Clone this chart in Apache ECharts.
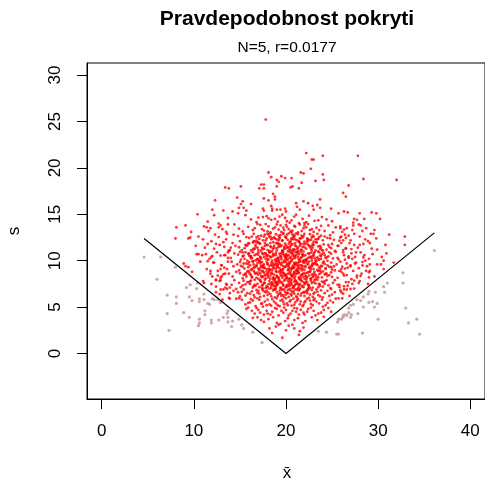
<!DOCTYPE html>
<html>
<head>
<meta charset="utf-8">
<script src="https://cdn.jsdelivr.net/npm/echarts@6/dist/echarts.min.js"></script>
<style>html,body{margin:0;padding:0;background:#fff;}#c{width:485px;height:481px;}</style>
</head>
<body>
<div id="c"></div>
<script>
// ---- data (x = sample mean, s = sample standard deviation) ----
const xTicks = [0, 10, 20, 30, 40];
const yTicks = [0, 5, 10, 15, 20, 25, 30];
const vLineX = [4.6, 20, 36.1];
const vLineS = [12.4, 0, 13.0];

const redLow = [
[19.6,1.7],[18.2,2.7],[18.5,2.2],[21.4,2.0],[21.5,2.4],[20.9,2.7],[20.3,3.0],[19.2,3.1],[18.9,2.9],[21.9,2.8],[20.0,2.5],
[17.6,3.4],[21.3,3.8],[19.4,3.2],[22.8,3.9],[18.1,3.7],[20.7,3.1],[16.9,3.9],[23.4,3.6],[19.9,3.5],[21.8,3.3],[18.6,3.9],[20.2,3.8],[17.3,3.6],[22.1,3.5],[19.0,3.3],[24.1,3.95],[20.9,3.6],[16.4,3.85],
[18.3,4.2],[21.6,4.7],[19.7,4.4],[23.2,4.1],[16.8,4.9],[20.5,4.3],[22.4,4.8],[17.9,4.6],[24.6,4.9],[19.2,4.1],[21.1,4.5],[15.7,4.8],[20.0,4.7],[23.8,4.4],[18.8,4.9],[22.0,4.2],[17.2,4.4],[20.9,4.9],[19.5,4.6],[24.1,4.7],[16.3,4.6],[21.9,4.4],[18.5,4.5],[20.3,4.1],[23.0,4.6],[17.6,4.2],[22.7,4.95],[19.0,4.8],[15.9,4.95],[21.4,4.2],[20.7,4.6],[18.0,4.3],[24.9,4.5],[16.6,4.3],[22.3,4.5],[19.8,4.95],[17.0,4.7],[21.2,4.85],[23.5,4.3],
[19.3,5.1],[22.6,5.7],[17.4,5.4],[20.8,5.9],[15.2,5.8],[24.3,5.2],[18.7,5.6],[21.5,5.3],[16.1,5.5],[23.1,5.9],[20.1,5.4],[25.7,5.95],[17.9,5.2],[22.0,5.5],[19.6,5.8],[14.6,5.9],[21.8,5.1],[18.2,5.3],[24.8,5.7],[20.4,5.6],[16.7,5.1],[23.6,5.4],[19.0,5.95],[21.2,5.7],[17.1,5.8],[22.9,5.2],[15.6,5.3],[20.6,5.15],[18.5,5.85],[25.1,5.5],[19.8,5.3],[22.3,5.9],[16.4,5.7],[21.0,5.5],[23.9,5.8],[17.7,5.6],[20.2,5.2],[18.9,5.4],[24.0,5.05],[14.9,5.95],[21.6,5.6],[19.4,5.7],[22.7,5.35],[16.9,5.95],[20.9,5.25],[18.0,5.8],[23.3,5.6],[15.9,5.45],[21.3,5.85],[19.1,5.2],[25.4,5.9],[17.5,5.05],[22.1,5.65],[20.0,5.95],[18.4,5.15],[24.5,5.45],[16.2,5.85],[21.9,5.25],[19.7,5.55],[23.0,5.75],[17.3,5.35],[20.5,5.75],[26.1,5.95],[13.9,5.9]
];

const redMid = [
[20.3,6.1],[17.8,6.6],[23.5,6.3],[15.4,6.9],[21.7,6.5],[19.1,6.2],[25.9,6.8],[18.3,6.4],[22.4,6.9],[13.6,6.95],[20.8,6.7],[16.5,6.3],[24.2,6.5],[19.6,6.85],[21.1,6.15],[17.0,6.75],[23.0,6.45],[14.8,6.6],[20.0,6.35],[26.6,6.9],[18.8,6.05],[22.2,6.7],[16.1,6.45],[21.5,6.95],[19.4,6.5],[24.7,6.2],[17.4,6.9],[20.6,6.25],[15.0,6.15],[23.8,6.8],[18.1,6.55],[22.9,6.1],[19.9,6.65],[16.8,6.85],[21.3,6.4],[25.3,6.6],[17.6,6.2],[20.4,6.95],[14.3,6.75],[22.6,6.35],[18.6,6.8],[24.0,6.05],[19.2,6.4],[21.9,6.6],[15.8,6.5],[23.3,6.9],[20.1,6.55],[17.2,6.1],[26.2,6.45],[18.9,6.95],[22.0,6.2],[16.3,6.7],[21.4,6.8],[19.7,6.3],[24.5,6.75],[13.9,6.5],[20.9,6.45],[17.9,6.75],[23.1,6.55],[15.6,6.25],[19.0,6.6],[22.8,6.85],[18.4,6.15],[25.0,6.35],[21.0,6.9],[16.6,6.05],[20.7,6.6],[14.6,6.95],[23.7,6.15],[19.3,6.75],[17.1,6.45],[22.3,6.5],[20.2,6.85],[24.9,6.95],[18.0,6.3],[21.6,6.25],[15.2,6.65],[19.8,6.1],[23.4,6.65],[16.9,6.55],[21.2,6.05],[18.7,6.9],[27.0,6.95],[12.9,6.9],[20.5,6.4],[17.5,6.95],[22.5,6.0],[19.5,6.2],
[19.4,7.1],[22.1,7.6],[16.7,7.3],[24.4,7.9],[20.6,7.4],[18.2,7.8],[13.5,7.5],[21.8,7.2],[17.3,7.7],[25.6,7.4],[19.9,7.95],[15.1,7.15],[23.2,7.55],[20.2,7.25],[18.6,7.45],[22.7,7.85],[16.0,7.65],[21.3,7.05],[26.8,7.7],[19.0,7.35],[17.7,7.95],[24.0,7.2],[20.9,7.75],[14.4,7.9],[22.4,7.4],[18.9,7.6],[21.0,7.9],[16.4,7.1],[23.7,7.3],[19.6,7.55],[27.4,7.85],[17.9,7.25],[20.4,7.65],[15.6,7.45],[22.9,7.1],[18.4,7.05],[25.1,7.6],[21.5,7.5],[12.8,7.8],[19.2,7.8],[16.9,7.5],[23.9,7.75],[20.0,7.15],[22.2,7.95],[17.5,7.4],[24.8,7.05],[19.7,7.3],[14.9,7.6],[21.2,7.65],[18.0,7.15],[26.3,7.25],[20.7,7.05],[16.2,7.85],[22.5,7.3],[19.3,7.65],[23.4,7.95],[17.1,7.15],[21.7,7.8],[15.3,7.35],[20.3,7.5],[25.3,7.9],[18.7,7.25],[22.0,7.45],[13.9,7.1],[19.8,7.85],[24.2,7.5],[17.6,7.6],[21.4,7.3],[16.6,7.95],[20.8,7.2],[23.0,7.7],[18.3,7.55],[27.9,7.6],[19.5,7.0],[21.9,7.15],[15.8,7.7],[22.8,7.6],[17.2,7.85],[20.1,7.4],[24.6,7.35],[18.8,7.9],[21.1,7.55],[14.1,7.4],[23.5,7.15],[19.1,7.5],[16.5,7.25],[22.3,7.7],[20.5,7.85],[25.8,7.15],[17.8,7.05],[21.6,7.9],[18.5,7.7],[23.6,7.45],[12.4,7.95],[20.6,7.95],[16.1,7.5],[22.6,7.05],[19.0,7.7],[24.1,7.65],[17.4,7.35],[21.3,7.45],[15.4,7.85],[20.9,7.3],[18.1,7.45],
[20.4,8.1],[17.6,8.7],[23.3,8.3],[15.9,8.9],[21.8,8.5],[19.1,8.2],[26.2,8.6],[18.3,8.4],[22.6,8.85],[13.2,8.55],[20.9,8.75],[16.8,8.15],[24.7,8.45],[19.5,8.95],[21.4,8.05],[17.2,8.65],[23.0,8.35],[14.6,8.8],[20.1,8.25],[27.3,8.9],[18.7,8.5],[22.3,8.15],[16.2,8.45],[21.1,8.95],[19.8,8.6],[25.0,8.25],[17.9,8.8],[20.6,8.35],[15.3,8.1],[23.8,8.7],[18.0,8.55],[22.0,8.05],[19.3,8.75],[16.5,8.9],[21.6,8.4],[24.3,8.6],[17.4,8.2],[20.3,8.95],[12.6,8.4],[22.8,8.5],[18.9,8.85],[25.6,8.15],[19.0,8.3],[21.9,8.65],[15.6,8.55],[23.5,8.9],[20.0,8.45],[17.0,8.05],[28.1,8.35],[18.5,8.95],[22.2,8.3],[16.0,8.75],[21.3,8.85],[19.6,8.15],[24.9,8.75],[11.8,8.9],[20.8,8.55],[17.7,8.4],[23.2,8.05],[15.0,8.65],[19.4,8.5],[22.9,8.25],[18.2,8.9],[26.6,8.45],[21.0,8.3],[16.7,8.6],[20.5,8.8],[14.2,8.3],[23.6,8.55],[19.2,8.05],[17.3,8.35],[22.4,8.75],[20.2,8.6],[25.3,8.95],[18.1,8.2],[21.5,8.15],[15.4,8.45],[19.9,8.4],[24.0,8.85],[16.9,8.7],[21.2,8.6],[18.6,8.0],[27.7,8.2],[20.7,8.45],[17.5,8.85],[22.5,8.4],[13.8,8.6],[19.7,8.7],[23.9,8.2],[18.4,8.65],[21.7,8.95],[16.3,8.25],[20.0,8.15],[24.5,8.35],[17.8,8.5],[22.1,8.6],[14.9,8.95],[19.5,8.35],[23.1,8.8],[18.8,8.1],[21.4,8.7],[16.1,8.55],[26.0,8.8],[20.4,8.65],[17.1,8.95],[22.7,8.1],[19.0,8.8],[12.9,8.15],[21.8,8.25],[18.3,8.05],[24.2,8.5],[20.9,8.1],[15.7,8.3],[29.0,8.75]
];

const redHigh = [
[19.7,9.1],[22.4,9.6],[16.6,9.3],[24.9,9.8],[20.3,9.4],[18.0,9.7],[13.0,9.5],[21.6,9.2],[17.4,9.85],[26.1,9.35],[19.2,9.9],[15.5,9.15],[23.4,9.55],[20.7,9.25],[18.5,9.45],[22.0,9.8],[15.9,9.65],[21.2,9.05],[27.5,9.7],[19.0,9.35],[17.1,9.95],[24.3,9.2],[20.9,9.75],[14.1,9.9],[22.8,9.4],[18.8,9.6],[21.4,9.9],[16.3,9.1],[23.6,9.3],[19.5,9.55],[28.3,9.85],[17.7,9.25],[20.1,9.65],[15.1,9.45],[23.0,9.1],[18.3,9.05],[25.5,9.6],[21.7,9.5],[12.2,9.8],[19.3,9.8],[16.8,9.5],[24.0,9.75],[20.5,9.15],[22.2,9.95],[17.3,9.4],[25.0,9.05],[19.9,9.3],[14.7,9.6],[21.0,9.65],[18.1,9.15],[26.7,9.25],[20.6,9.05],[16.0,9.85],[22.6,9.3],[19.4,9.65],[23.3,9.95],[17.0,9.15],[21.9,9.8],[15.3,9.35],[20.2,9.5],[25.9,9.9],[18.7,9.25],[22.1,9.45],[13.6,9.1],[19.8,9.85],[24.5,9.5],[17.6,9.6],[21.3,9.3],[16.4,9.95],[20.8,9.2],[23.1,9.7],[18.4,9.55],[29.1,9.6],[19.6,9.0],[21.8,9.15],[15.7,9.7],[22.9,9.6],[17.2,9.85],[20.0,9.4],[24.7,9.35],[18.9,9.9],[21.1,9.55],[14.3,9.4],[23.7,9.15],[19.1,9.5],[16.5,9.25],[22.3,9.7],[20.4,9.85],[26.4,9.15],[17.9,9.05],[21.5,9.9],[18.6,9.7],[23.8,9.45],[11.5,9.95],[20.6,9.95],[16.1,9.5],[22.7,9.05],[19.0,9.7],[24.2,9.65],[17.5,9.35],[21.3,9.45],[15.0,9.85],[20.9,9.3],[18.2,9.45],[27.0,9.5],[19.3,9.2],[22.5,9.25],[16.9,9.75],[20.3,9.7],[13.3,9.25],[25.2,9.4],
[20.2,10.1],[17.5,10.7],[23.1,10.3],[15.6,10.9],[21.9,10.5],[19.0,10.2],[26.3,10.6],[18.4,10.4],[22.7,10.85],[12.9,10.55],[20.8,10.75],[16.9,10.15],[24.6,10.45],[19.6,10.95],[21.5,10.05],[17.0,10.65],[23.4,10.35],[14.4,10.8],[20.0,10.25],[27.6,10.9],[18.6,10.5],[22.2,10.15],[16.1,10.45],[21.2,10.95],[19.8,10.6],[25.1,10.25],[17.8,10.8],[20.5,10.35],[15.1,10.1],[23.9,10.7],[18.1,10.55],[22.0,10.05],[19.3,10.75],[16.4,10.9],[21.7,10.4],[24.2,10.6],[17.3,10.2],[20.4,10.95],[11.9,10.4],[22.9,10.5],[18.9,10.85],[25.7,10.15],[19.1,10.3],[21.8,10.65],[15.4,10.55],[23.6,10.9],[20.1,10.45],[16.7,10.05],[28.4,10.35],[18.3,10.95],[22.4,10.3],[15.9,10.75],[21.3,10.85],[19.5,10.15],[24.9,10.75],[13.7,10.9],[20.7,10.55],[17.6,10.4],[23.2,10.05],[14.8,10.65],[19.4,10.5],[22.8,10.25],[18.2,10.9],[26.8,10.45],[21.0,10.3],[16.6,10.6],[20.6,10.8],[14.0,10.3],[23.7,10.55],[19.2,10.05],[17.2,10.35],[22.5,10.75],[20.3,10.6],[25.4,10.95],[18.0,10.2],[21.4,10.15],[15.3,10.45],[19.9,10.4],[24.1,10.85],[16.8,10.7],[21.1,10.6],[18.5,10.0],[27.2,10.2],[20.9,10.45],[17.4,10.85],[22.6,10.4],[13.4,10.6],[19.7,10.7],[23.8,10.2],[18.7,10.65],[21.6,10.95],[16.2,10.25],[20.0,10.15],[24.4,10.35],[17.9,10.5],[22.1,10.6],[15.0,10.95],[19.5,10.35],[23.0,10.8],[18.8,10.1],[21.4,10.7],[16.0,10.55],
[19.6,11.1],[22.5,11.6],[16.5,11.3],[25.0,11.8],[20.4,11.4],[17.9,11.7],[13.3,11.5],[21.7,11.2],[17.2,11.85],[26.5,11.35],[19.1,11.9],[15.2,11.15],[23.5,11.55],[20.8,11.25],[18.4,11.45],[22.1,11.8],[15.8,11.65],[21.3,11.05],[28.0,11.7],[19.0,11.35],[16.9,11.95],[24.4,11.2],[20.6,11.75],[14.2,11.9],[22.9,11.4],[18.7,11.6],[21.5,11.9],[16.2,11.1],[23.7,11.3],[19.4,11.55],[17.6,11.25],[20.0,11.65],[14.9,11.45],[23.2,11.1],[18.2,11.05],[25.6,11.6],[21.8,11.5],[12.4,11.8],[19.3,11.8],[16.7,11.5],[24.1,11.75],[20.5,11.15],[22.3,11.95],[17.4,11.4],[25.3,11.05],[19.8,11.3],[14.5,11.6],[21.0,11.65],[18.0,11.15],[27.1,11.25],[20.7,11.05],[16.0,11.85],[22.7,11.3],[19.5,11.65],[23.3,11.95],[17.0,11.15],[21.9,11.8],[15.5,11.35],[20.2,11.5],[26.0,11.9],[18.6,11.25],[22.0,11.45],[13.8,11.1],[19.9,11.85],[24.7,11.5],[17.7,11.6],[21.2,11.3],[16.4,11.95],[20.9,11.2],[23.0,11.7],[18.3,11.55],[19.7,11.0],[21.6,11.15],[15.6,11.7],[22.8,11.6],[17.1,11.85],[20.1,11.4],[24.9,11.35],[18.9,11.9],[21.1,11.55],[14.0,11.4],[23.9,11.15],[19.2,11.5],[16.6,11.25],[22.4,11.7],[20.3,11.85],[26.2,11.15]
];

const redCenter = [
[18.6,9.2],[21.3,8.7],[19.9,10.4],[17.2,7.9],[22.8,11.1],[20.5,6.8],[16.4,9.9],[23.5,8.2],[19.1,11.8],[21.9,10.0],[18.0,8.4],[20.8,12.3],[17.7,10.8],[22.4,7.4],[19.5,7.7],[24.1,9.9],[15.8,8.8],[20.2,9.0],[21.5,11.6],[18.3,12.6],[23.0,10.6],[16.9,11.4],[20.0,7.2],[19.3,8.9],[22.1,9.3],[17.5,9.5],[24.7,10.9],[18.8,6.9],[21.1,7.8],[20.6,10.9],[16.2,10.5],[23.3,12.0],[19.7,12.9],[18.1,10.1],[22.6,8.8],[20.9,9.6],[17.0,8.5],[21.7,12.7],[19.0,7.5],[23.8,11.4],[15.5,10.2],[20.3,11.2],[18.5,11.0],[22.0,6.6],[19.6,9.8],[21.4,9.1],[17.8,12.2],[24.4,8.6],[20.1,8.1],[16.6,7.4],[22.9,9.7],[18.9,10.6],[21.0,11.9],[19.4,6.4],[23.6,10.1],[17.3,11.1],[20.7,8.3],[18.2,9.0],[22.3,12.4],[15.9,9.3],[21.6,8.0],[19.2,10.3],[20.4,12.0],[17.6,6.7],[23.1,7.9],[18.7,8.0],[21.8,10.7],[16.8,12.5],[20.0,9.9],[24.0,12.2],[19.8,11.5],[22.5,9.9],[18.4,7.3],[21.2,6.9],[17.1,10.0],[20.6,7.6],[23.4,9.0],[19.3,12.4],[16.3,8.2],[22.2,11.3],[18.0,11.7],[21.5,9.5],[19.9,8.5],[24.3,10.3],[17.4,8.9],[20.8,10.2],[22.7,10.4],[18.6,12.0],[15.7,11.6],[21.0,8.6],[19.5,10.8],[23.2,8.5],[17.9,9.9],[20.2,6.5],[22.0,12.9],[16.5,9.6],[21.3,10.4],[18.8,7.7],[19.1,9.6],[23.9,9.4],[17.0,12.0],[20.5,11.6],[22.4,7.0],[18.3,10.4],[21.7,7.3],[19.7,9.4],[16.0,10.8],[24.6,11.7],[20.9,12.6],[17.7,7.6],[22.8,10.0],[19.0,11.1],[21.1,9.8],[18.5,8.6],[23.0,12.6],[15.4,9.7],[20.3,8.0],[21.9,11.0],[17.2,10.4],[19.4,7.0],[22.6,9.2],[18.1,12.8],[20.7,9.3],[16.7,11.7],[23.7,8.9],[19.8,6.9],[21.4,12.1],[18.9,9.1],[20.0,10.7],[22.1,8.3],[17.5,11.3],[24.9,9.3],[19.2,8.2],[21.6,10.3],[16.1,7.8],[20.4,9.7],[23.5,11.0],[18.7,11.4],[22.3,6.8],[19.6,12.2],[17.8,8.1],[21.2,8.9],[20.1,12.8],[15.6,8.6],[22.9,11.8],[18.2,7.0],[20.8,7.1],[23.3,9.6],[17.3,9.3],[19.5,8.7],[21.8,9.4],[16.9,10.2],[24.2,7.8],[20.6,10.1],[18.4,9.8],[22.5,12.2],[19.0,10.0],[21.0,7.4],[17.6,12.6],[23.8,10.5],[20.2,11.0],[16.4,11.2],[22.0,9.0],[18.6,10.7],[21.5,12.4],[19.3,7.9],[20.9,8.8],[17.1,9.1],[23.1,10.9],[19.9,11.3],[15.8,10.0],[22.7,8.0],[18.0,9.6],[21.3,11.4],[20.4,7.3],[24.5,10.0],[17.9,10.6],[19.7,8.4],[22.2,10.1],[16.6,8.7],[20.0,12.5],[21.7,8.5],[18.3,11.9],[23.4,12.3],[19.1,9.3],[20.7,11.8],[17.4,7.1],[22.4,10.8],[18.8,12.4],[21.1,10.9],[16.2,9.0],[23.6,7.5],[19.4,10.5],[20.3,9.2],[17.7,11.9],[22.8,9.5],[18.5,7.5],[21.9,7.7],[19.6,11.0],[15.3,10.9],[24.0,11.1],[20.5,8.5],[18.1,8.7],[22.6,11.5],[17.0,10.9],[21.4,8.2],[19.8,10.0],[23.0,8.6],[16.8,9.4],[20.1,10.6],[21.6,11.8],[18.7,9.5],[19.2,12.7],[22.1,7.6],[17.5,8.3],[24.8,12.4],[20.8,9.5],[18.9,7.2],[21.2,12.2],[16.5,12.1],[23.2,9.8],[19.5,9.0],[20.6,12.4],[17.2,9.7],[22.3,8.7],[18.4,12.3],[21.0,10.5],[19.0,8.4],[23.7,11.6],[15.9,11.9],[20.2,7.8],[21.8,9.9],[17.8,10.2],[22.5,7.2],[19.3,11.6],[20.9,11.1],[18.2,10.9],[16.3,10.3],[24.3,9.1],[21.5,7.0],[19.7,7.4],[22.9,12.7],[17.6,9.2],[20.4,10.3],[18.6,8.2],[21.3,9.7],[23.5,10.2]
];

const redTop = [
[20.5,12.1],[17.3,12.7],[23.2,12.3],[15.4,12.9],[21.8,12.5],[19.2,12.2],[26.0,12.6],[18.5,12.4],[22.6,12.85],[12.7,12.55],[20.9,12.75],[16.8,12.15],[24.5,12.45],[19.7,12.95],[21.4,12.05],[17.0,12.65],[23.5,12.35],[14.3,12.8],[20.2,12.25],[27.4,12.9],[18.7,12.5],[22.3,12.15],[16.0,12.45],[21.1,12.95],[19.9,12.6],[25.2,12.25],[17.7,12.8],[20.6,12.35],[15.0,12.1],[23.8,12.7],[18.2,12.55],[22.0,12.05],[19.4,12.75],[16.5,12.9],[21.6,12.4],[24.2,12.6],[17.5,12.2],[20.3,12.95],[22.8,12.5],[18.9,12.85],[25.8,12.15],[19.0,12.3],[21.9,12.65],[15.7,12.55],[23.4,12.9],[20.0,12.45],[16.6,12.05],[18.3,12.95],[22.4,12.3],[21.3,12.85],[19.6,12.15],[24.8,12.75],[13.6,12.9],[20.8,12.55],[17.9,12.4],[23.0,12.05],[14.8,12.65],[19.3,12.5],[22.7,12.25],[18.0,12.9],[26.5,12.45],[21.0,12.3],[16.3,12.6],[20.7,12.8],[23.6,12.55],[17.1,12.35],
[19.5,13.1],[22.2,13.6],[16.4,13.3],[24.6,13.8],[20.3,13.4],[18.1,13.7],[21.7,13.2],[17.2,13.85],[26.3,13.35],[19.0,13.9],[15.3,13.15],[23.3,13.55],[20.7,13.25],[18.6,13.45],[22.0,13.8],[15.9,13.65],[21.3,13.05],[19.2,13.35],[16.9,13.95],[24.2,13.2],[20.9,13.75],[14.4,13.9],[22.8,13.4],[18.8,13.6],[21.5,13.9],[17.6,13.25],[23.6,13.3],[19.7,13.55],[20.1,13.65],[14.9,13.45],[23.0,13.1],[18.3,13.05],[25.4,13.6],[21.9,13.5],[19.4,13.8],[16.6,13.5],[20.5,13.15],[22.4,13.95],[17.4,13.4],[25.1,13.05],[19.8,13.3],[21.0,13.65],[18.0,13.15],[20.6,13.05],[22.6,13.3],[17.8,13.95],[23.8,13.75],[20.0,13.85],
[20.4,14.1],[17.5,14.7],[23.1,14.3],[15.6,14.9],[21.8,14.5],[19.1,14.2],[18.4,14.4],[22.5,14.85],[20.9,14.75],[16.8,14.15],[24.4,14.45],[19.6,14.95],[21.4,14.05],[17.0,14.65],[23.5,14.35],[20.1,14.25],[18.8,14.5],[22.2,14.15],[16.2,14.45],[21.1,14.95],[19.9,14.6],[25.0,14.25],[17.9,14.8],[20.6,14.35],[23.9,14.7],[18.1,14.55],[22.0,14.05],[19.3,14.75]
];

const redEdges = [
[11.6,13.2],[12.3,12.8],[13.1,13.4],[11.9,12.1],[12.8,11.7],[13.5,12.3],[11.2,11.4],[12.5,10.9],[13.3,10.6],[11.7,10.2],[12.1,9.8],[13.0,9.5],[13.7,9.9],[11.4,9.1],[12.6,8.9],[13.4,8.6],[12.0,8.3],[12.9,7.9],[13.6,7.4],[11.8,8.6],[13.2,6.9],[12.4,6.6],[13.8,6.0],[13.1,5.8],[12.2,11.3],[13.9,11.1],[11.0,12.3],[12.7,13.6],[10.9,10.6],[13.5,13.1],[12.0,10.5],[11.5,11.8],[13.2,12.0],[10.7,9.9],[12.9,9.1],[11.9,7.5],[13.4,7.1],[12.4,7.9],[13.0,8.3],[11.3,10.7],[13.7,10.3],[10.2,11.6],[9.7,13.1],
[8.9,9.7],[9.1,9.4],[9.4,9.3],[9.8,8.8],[8.0,12.4],[9.4,12.4],[9.6,12.5],[10.5,12.6],[10.3,10.7],[10.5,10.7],[11.0,7.8],[11.1,7.6],[12.4,7.2],[12.8,6.4],
[26.4,12.8],[27.2,13.3],[28.0,12.6],[26.9,11.9],[27.8,11.4],[26.2,10.9],[27.5,10.4],[28.6,10.0],[26.6,9.7],[27.9,9.2],[26.3,8.4],[27.1,8.0],[28.2,8.6],[26.7,7.3],[27.4,7.0],[26.0,6.6],[28.9,12.1],[29.4,10.7],[27.0,12.2],[26.5,11.3],[28.4,11.8],[25.9,12.5],[27.6,9.8],[26.8,10.3],[28.8,9.4],[25.8,8.9],[27.3,13.8],[26.1,13.1],[29.8,12.4],[26.9,6.2],
[25.9,13.7],[26.6,13.5],[27.9,13.9],[28.3,13.2],[26.2,12.2],[27.4,11.7],[28.1,10.9],[26.4,10.1],[27.0,9.4],[28.3,9.5],[26.0,9.1],[27.7,8.4],[26.5,7.7],[28.0,7.8],[25.8,7.4],[27.2,7.5],[26.3,6.9],[28.5,10.6],[29.0,10.2],[27.1,10.8],[25.7,11.6],[28.7,13.5],[26.8,12.7],[29.1,11.9],[25.6,10.3],[28.9,7.5],
[31.7,9.8],[32.9,12.6],[32.9,11.7],[31.2,12.8],[30.8,11.7],[30.4,10.4],[30.6,10.0],[29.9,9.6],[30.3,9.6],[30.6,9.1],[29.6,13.3],[29.5,12.9],[29.2,12.9],[28.6,12.3],[29.3,11.3],[29.9,11.2],[30.9,10.8],[29.1,8.9],[28.7,8.9],[29.0,8.2],[29.6,8.3]
];

const redSparse = [
[13.4,17.9],[13.8,17.8],[12.3,16.5],[10.4,15.0],[12.0,15.5],[13.2,15.4],[12.2,14.9],[13.7,14.6],[11.5,14.2],[8.1,13.6],[9.1,13.8],[11.1,13.7],[11.4,13.6],[11.8,13.5],[12.7,14.0],[12.9,13.8],[13.7,13.9],
[17.8,25.2],[22.2,21.6],[22.8,20.9],[23.0,20.9],[24.0,21.3],[22.7,19.9],[18.1,19.5],[18.4,19.0],[19.5,19.1],[19.9,18.9],[20.6,18.9],[19.0,18.7],[19.2,18.5],[21.6,19.5],[21.9,19.4],[24.0,19.3],[24.1,18.7],[23.2,18.6],[21.7,18.4],[15.1,18.0],[17.3,18.2],[17.6,18.2],[17.1,17.8],[17.6,17.8],[19.0,18.0],[20.5,17.9],[20.7,18.0],[21.4,17.8],[18.6,17.2],[14.7,16.8],[15.3,16.4],[17.6,16.7],[18.8,16.9],[18.8,16.6],[18.1,16.5],[16.2,16.1],[15.1,16.1],[14.9,15.7],[15.4,15.7],[15.7,15.4],[14.2,15.3],[14.8,15.1],[17.5,15.6],[17.6,15.4],[18.4,15.9],[18.5,15.6],[18.5,15.4],[19.0,15.5],[19.4,15.5],[19.9,15.6],[20.0,15.3],[21.1,16.2],[21.2,15.8],[21.5,15.5],[21.9,16.4],[22.4,16.2],[22.9,15.9],[23.0,15.5],[23.4,16.0],[23.7,15.7],[23.7,16.6],[24.9,15.6],[26.2,17.3],[26.5,16.9],[26.8,18.1],[25.7,15.1],[26.3,15.3],[26.7,15.2],
[27.8,21.3],[28.4,18.8],[32.0,18.7],[28.0,15.1],[29.3,15.2],[29.8,15.1],[27.4,14.5],[27.7,14.4],[28.5,14.5],[30.2,14.5],[27.3,14.1],[28.1,13.8],[25.9,13.5]
];

const greyPoints = [
[4.6,10.4],[6.4,10.4],[6.0,8.0],[8.0,9.3],[7.1,6.3],[8.1,6.1],[8.1,5.4],[7.1,4.3],[7.3,2.5],[8.9,4.4],[9.5,3.9],[9.2,7.1],[9.6,7.4],[9.5,6.1],[9.8,5.7],[10.4,7.6],[10.3,7.0],[10.6,5.9],[10.6,5.6],[11.1,6.4],[11.1,5.8],[11.5,5.4],[11.7,5.3],[11.2,4.6],[11.2,4.2],[10.6,3.7],[10.6,3.3],[10.5,3.0],[12.0,5.9],[12.2,5.8],[12.6,5.8],[12.9,5.5],
[11.9,3.6],[11.9,3.3],[12.7,3.6],[13.2,3.9],[13.7,4.6],[13.7,3.9],[13.7,3.4],[13.6,4.3],[14.2,3.5],[14.9,3.7],[15.2,3.1],[15.4,2.7],[14.1,2.9],[16.4,2.3],[17.4,1.2],
[36.1,11.1],[32.7,8.7],[32.7,7.6],[31.0,7.6],[30.6,7.2],[30.7,6.6],[29.7,6.6],[29.0,6.7],[28.9,6.4],[29.4,5.6],[29.9,5.4],[29.0,5.5],[28.4,6.1],[28.1,5.7],[27.7,5.8],[27.3,5.3],[28.4,5.0],[29.6,5.0],[27.0,5.2],[26.8,4.9],[26.8,4.4],[26.4,4.2],[26.2,3.9],[26.0,3.7],[25.7,3.7],[27.1,4.2],[27.0,3.9],[27.8,4.3],[33.0,4.9],[30.0,3.7],[33.3,3.3],[34.2,3.7],[34.5,2.1],[28.3,2.2],[25.7,2.1],[24.4,2.3],[25.5,2.1],[25.6,3.4],[26.2,4.1],[26.6,4.1],[23.5,2.4]
];

const redPoints = [].concat(redLow, redMid, redHigh, redCenter, redTop, redEdges, redSparse);
const vLine = vLineX.map((x, i) => [x, vLineS[i]]);

const FONT = '"Liberation Sans", Arial, Helvetica, sans-serif';
const chart = echarts.init(document.getElementById('c'), null, {renderer: 'canvas'});
chart.setOption({
  animation: false,
  backgroundColor: '#ffffff',
  grid: {left: 87, top: 63, width: 400, height: 336, show: true, borderColor: '#000', borderWidth: 1, backgroundColor: 'transparent'},
  xAxis: {
    type: 'value', min: -1.6, max: 41.6,
    axisLine: {show: true, onZero: false, lineStyle: {color: '#000', width: 1}},
    axisTick: {show: true, length: 10, customValues: xTicks, lineStyle: {color: '#000', width: 1}},
    axisLabel: {show: true, customValues: xTicks, margin: 32, verticalAlign: 'middle', color: '#000', fontSize: 17, fontFamily: FONT},
    splitLine: {show: false}
  },
  yAxis: {
    type: 'value', min: -4.9, max: 31.3,
    axisLine: {show: true, onZero: false, lineStyle: {color: '#000', width: 1}},
    axisTick: {show: true, length: 10, customValues: yTicks, lineStyle: {color: '#000', width: 1}},
    axisLabel: {show: true, customValues: yTicks, rotate: 90, margin: 32, align: 'center', verticalAlign: 'middle', color: '#000', fontSize: 17, fontFamily: FONT},
    splitLine: {show: false}
  },
  graphic: [
    {type: 'text', z: 10, style: {x: 287, y: 19.5, text: 'Pravdepodobnost pokryti', textAlign: 'center', textVerticalAlign: 'middle', font: 'bold 21px ' + FONT, fill: '#000'}},
    {type: 'text', z: 10, style: {x: 287, y: 48, text: 'N=5, r=0.0177', textAlign: 'center', textVerticalAlign: 'middle', font: '15.5px ' + FONT, fill: '#000'}},
    {type: 'text', z: 10, style: {x: 287, y: 473, text: 'x\u0304', textAlign: 'center', textVerticalAlign: 'middle', font: '17px ' + FONT, fill: '#000'}},
    {type: 'text', z: 10, x: 14, y: 231, rotation: Math.PI / 2, style: {x: 0, y: 0, text: 's', textAlign: 'center', textVerticalAlign: 'middle', font: '17px ' + FONT, fill: '#000'}}
  ],
  series: [
    {type: 'scatter', data: greyPoints, symbol: 'circle', symbolSize: 3.2, itemStyle: {color: '#c39494'}, silent: true, z: 2},
    {type: 'scatter', data: redPoints, symbol: 'circle', symbolSize: 2.8, itemStyle: {color: '#ff0000'}, silent: true, z: 3},
    {type: 'line', data: vLine, symbol: 'none', lineStyle: {color: '#000', width: 1.2}, silent: true, z: 4}
  ]
});
</script>
</body>
</html>
